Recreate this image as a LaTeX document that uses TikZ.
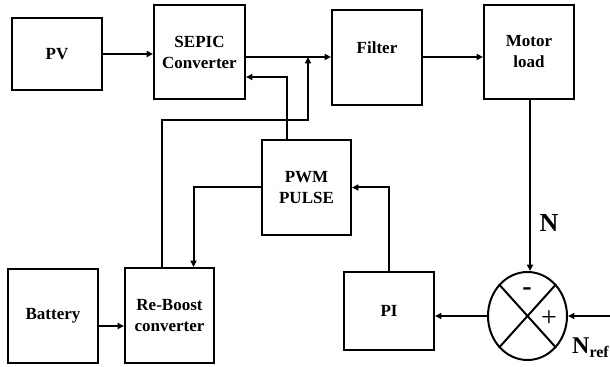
\documentclass[tikz,border=0pt]{standalone}
\usepackage{fontspec}
\setmainfont{Liberation Serif}
\usepackage{tikz}
\usetikzlibrary{shapes.geometric, arrows.meta, positioning, calc}

\begin{document}
\begin{tikzpicture}[x=0.5pt, y=-0.5pt,
    box/.style={rectangle, draw=black, line width=1pt, minimum width=45pt, minimum height=47pt, align=center, inner sep=1pt, font=\fontsize{8.5}{10.5}\selectfont\bfseries},
    sumnode/.style={ellipse, draw=black, line width=1pt, minimum width=39.5pt, minimum height=44pt, inner sep=0pt},
    arrow/.style={-{Triangle[length=3.2pt, width=3pt]}, line width=1pt},
    line/.style={line width=1pt}
]
\useasboundingbox (0,0) rectangle (610,367);

% Top row
\node (PV)      [box, minimum height=36pt] at (57,54)    {PV};
\node (SEPIC)   [box, minimum width=45.5pt] at (199.5,52) {SEPIC\\Converter};
\node (FILTER)  [box, minimum height=47.5pt] at (377,58) {Filter\\\mbox{}};
\node (MOTOR)   [box] at (529,52)   {Motor\\load};

% Middle
\node (PWM)     [box, minimum width=44.5pt, minimum height=47.5pt] at (306.5,187.5) {PWM\\PULSE};

% Bottom row
\node (BATTERY) [box] at (53,316)   {Battery};
\node (REBOOST) [box, minimum width=44.5pt, minimum height=47.5pt] at (169.5,315.5) {Re-Boost\\converter};
\node (PI)      [box, minimum height=39pt] at (389,311) {PI};
\node (SUM)     [sumnode] at (527.5,316) {};

% Summing junction
\draw [line] (SUM.north west) -- (SUM.south east);
\draw [line] (SUM.north east) -- (SUM.south west);
\node (MINUS) at (527,292) {\fontsize{14}{14}\selectfont\bfseries -};
\node (PLUS)  at (549,319) {\fontsize{14}{14}\selectfont +};

% Helper points
\coordinate (JOIN)  at (308,57);
\coordinate (NREF)  at (610,316);

% Forward path
\draw [arrow] (PV.east) -- (PV.east -| SEPIC.west);
\draw [arrow] (SEPIC.east |- JOIN) -- (FILTER.west |- JOIN);
\draw [arrow] (FILTER.east |- JOIN) -- (MOTOR.west |- JOIN);
\draw [arrow] ([xshift=0.5pt]MOTOR.south) -- ([xshift=0.5pt]MOTOR.south |- SUM.north) node[pos=0.72, right=1pt, font=\fontsize{13}{13}\selectfont\bfseries] {N};
\draw [arrow] (NREF) -- (SUM.east);
\node (NREFLBL) at (591,348) {\fontsize{12}{12}\selectfont\bfseries N\textsubscript{ref}};

% Feedback path
\draw [arrow] (SUM.west) -- (SUM.west -| PI.east);
\draw [arrow] (PI.north) |- (PWM.east);
\draw [arrow] (PWM.west) -| ([xshift=12pt]REBOOST.north);
\draw [arrow] ([xshift=-4pt]REBOOST.north) |- (161,120) -| (JOIN);
\draw [arrow] ([xshift=-10pt]PWM.north) |- ([yshift=-12.5pt]SEPIC.east);

% Battery link
\draw [arrow] ([yshift=-5pt]BATTERY.east) -- ([yshift=-5pt]BATTERY.east -| REBOOST.west);

\end{tikzpicture}
\end{document}
